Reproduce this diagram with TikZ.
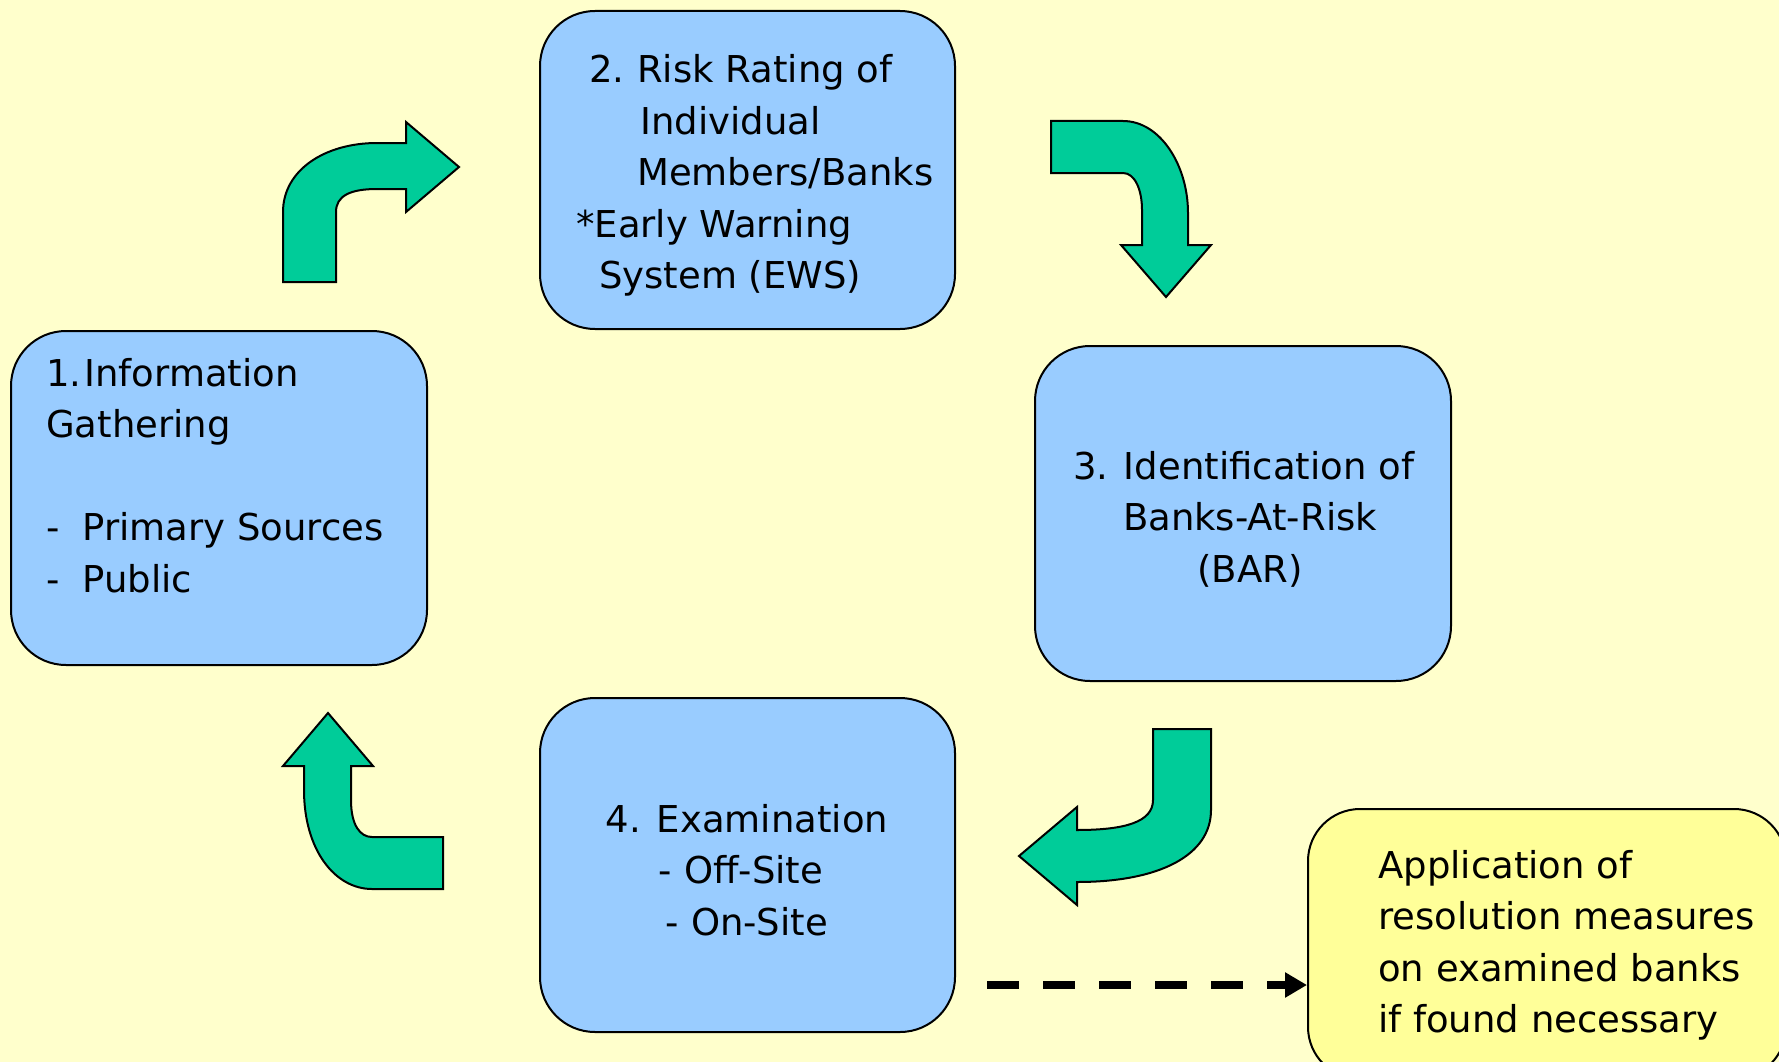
\documentclass[tikz,border=0pt]{standalone}
\usepackage{fontspec}
\setmainfont{DejaVu Sans}
\usetikzlibrary{arrows.meta}
\definecolor{bgyellow}{HTML}{FFFFCC}
\definecolor{boxblue}{HTML}{99CCFF}
\definecolor{arrowgreen}{HTML}{00CC99}
\definecolor{noteyellow}{HTML}{FFFF99}
\tikzset{
  stagebox/.style={draw=black, line width=2pt, fill=boxblue, rounded corners=55pt,
    inner sep=0pt, minimum width=#1},
  notebox/.style={draw=black, line width=2pt, fill=noteyellow, rounded corners=52pt,
    inner sep=0pt, minimum width=478pt, minimum height=270pt},
  boxtext/.style={inner sep=0pt, font=\fontsize{37}{51.5}\selectfont},
  bigarrow/.style={draw=black, line width=2pt, fill=arrowgreen, line join=miter},
  dasharrow/.style={draw=black, line width=8pt, dash pattern=on 32pt off 24pt,
    -{Triangle[length=22pt,width=24pt]}}
}
\begin{document}
\begin{tikzpicture}[x=1pt,y=-1pt]
\fill[bgyellow] (0,0) rectangle (1779,1062);
\useasboundingbox (0,0) rectangle (1779,1062);

% stage boxes
\node[stagebox=416pt, minimum height=334pt] (b1) at (219,498) {};
\node[stagebox=415pt, minimum height=318pt] (b2) at (747.5,170) {};
\node[stagebox=416pt, minimum height=335pt] (b3) at (1243,513.5) {};
\node[stagebox=415pt, minimum height=334pt] (b4) at (747.5,865) {};
\node[notebox] (app) at (1547,944) {};

% texts
\node[boxtext, anchor=base west] (t1) at (46,386) {\begin{tabular}[t]{@{}l@{}}
1.\kern3pt Information\\
Gathering\\
\\
-\hspace*{23pt}Primary Sources\\
-\hspace*{23pt}Public
\end{tabular}};

\node[boxtext, anchor=base west] (t2) at (575,83) {\begin{tabular}[t]{@{}l@{}}
\hspace*{14pt}2.\kern-3pt{} Risk Rating of\\
\hspace*{65pt}Individual\\
\hspace*{62pt}Members/Banks\\
\hspace*{1pt}*Early Warning\\
\hspace*{24pt}System (EWS)
\end{tabular}};

\node[boxtext, anchor=base] (t3) at (1250,479) {\begin{tabular}[t]{@{}c@{}}
3. Identification of\kern13pt\\
Banks-At-Risk\\
(BAR)
\end{tabular}};

\node[boxtext, anchor=base] (t4) at (747,832) {\begin{tabular}[t]{@{}c@{}}
4. Examination\\
- Off-Site\kern12pt\\
- On-Site
\end{tabular}};

\node[boxtext, anchor=base west] (t5) at (1378,878) {\begin{tabular}[t]{@{}l@{}}
Application of\\
resolution measures\\
on examined banks\\
if found necessary
\end{tabular}};

% curved block arrows
\path[bigarrow] (283,282) -- (283,212) .. controls (283,170) and (325,143) .. (377,143)
  -- (406,143) -- (406,122) -- (459,167) -- (406,212) -- (406,189) -- (377,189)
  .. controls (350,189) and (336,196) .. (336,212) -- (336,282) -- cycle;

\path[bigarrow] (1051,121) -- (1123,121) .. controls (1160,121) and (1188,165) .. (1188,213)
  -- (1188,245) -- (1211,245) -- (1166,297) -- (1121,245) -- (1142,245) -- (1142,210)
  .. controls (1142,190) and (1135,173) .. (1123,173) -- (1051,173) -- cycle;

\path[bigarrow] (1153,729) -- (1211,729) -- (1211,810) .. controls (1211,855) and (1160,882) .. (1077,882)
  -- (1077,905) -- (1019,856) -- (1077,807) -- (1077,830)
  .. controls (1125,830) and (1153,822) .. (1153,800) -- cycle;

\path[bigarrow] (443,889) -- (372,889) .. controls (335,889) and (304,850) .. (304,790)
  -- (304,766) -- (283,766) -- (328,713) -- (373,766) -- (351,766) -- (351,800)
  .. controls (351,825) and (360,837) .. (372,837) -- (443,837) -- cycle;

% dashed connector
\coordinate (dstart) at (987,985);
\draw[dasharrow] (dstart) -- (app.west |- dstart);
\end{tikzpicture}
\end{document}
